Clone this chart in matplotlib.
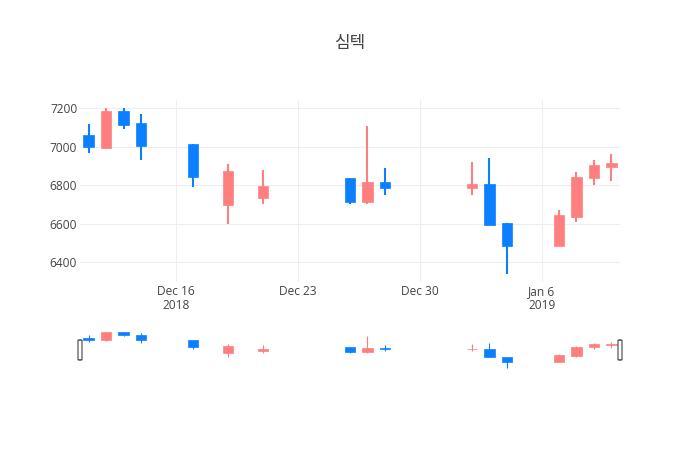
import numpy as np
import matplotlib
matplotlib.use("Agg")
from matplotlib import pyplot as plt
import matplotlib.dates as mdates
from matplotlib.patches import FancyBboxPatch
from matplotlib.ticker import FuncFormatter, FixedLocator
import datetime as dt

title = "심텍"
dates = ["2018-12-11", "2018-12-12", "2018-12-13", "2018-12-14", "2018-12-17",
         "2018-12-19", "2018-12-21", "2018-12-26", "2018-12-27", "2018-12-28",
         "2019-01-02", "2019-01-03", "2019-01-04", "2019-01-07", "2019-01-08",
         "2019-01-09", "2019-01-10"]
opens  = [7060, 6995, 7185, 7125, 7015, 6695, 6735, 6835, 6715, 6815,
          6785, 6805, 6605, 6485, 6635, 6835, 6895]
highs  = [7120, 7200, 7200, 7170, 7015, 6910, 6880, 6835, 7110, 6890,
          6920, 6940, 6605, 6670, 6870, 6930, 6960]
lows   = [6970, 6990, 7090, 6930, 6790, 6600, 6700, 6700, 6700, 6750,
          6750, 6595, 6340, 6485, 6610, 6800, 6820]
closes = [7000, 7185, 7115, 7005, 6845, 6875, 6795, 6715, 6815, 6785,
          6805, 6595, 6485, 6645, 6845, 6905, 6915]
tick_dates = ["2018-12-16", "2018-12-23", "2018-12-30", "2019-01-06"]

UP = "#FF7F7F"
DOWN = "#0A7FFF"
TXT = "#444444"
GRID = "#eeeeee"

x = mdates.date2num([dt.datetime.strptime(d, "%Y-%m-%d") for d in dates])
o = np.array(opens); h = np.array(highs); l = np.array(lows); c = np.array(closes)
cols = [UP if cc >= oo else DOWN for oo, cc in zip(o, c)]

xmin, xmax = x.min() - 0.5, x.max() + 0.5
pad = (h.max() - l.min()) * 0.05
ymin, ymax = l.min() - pad, h.max() + pad

plt.rcParams['font.family'] = ['Open Sans', 'Noto Sans CJK KR', 'DejaVu Sans']

W, H = 700, 450
fig = plt.figure(figsize=(7, 4.5), dpi=100)

def candles(ax, lw):
    ax.vlines(x, l, h, colors=cols, linewidth=lw, zorder=2)
    ax.bar(x, np.abs(c - o), bottom=np.minimum(o, c), width=0.6, color=cols,
           edgecolor=cols, linewidth=0.5, zorder=3)
    ax.set_xlim(xmin, xmax)
    ax.set_ylim(ymin, ymax)
    for s in ax.spines.values():
        s.set_visible(False)

# main chart
ax = fig.add_axes([80 / W, 1 - 282 / H, 540 / W, 182 / H])
candles(ax, 1.5)
ax.set_yticks([6400, 6600, 6800, 7000, 7200])
ax.xaxis.set_major_locator(FixedLocator(mdates.date2num(
    [dt.datetime.strptime(d, "%Y-%m-%d") for d in tick_dates])))

def fmt(v, pos):
    d = mdates.num2date(v)
    s = d.strftime("%b ") + str(d.day)
    if pos == 0 or (d.month == 1 and d.day <= 7):
        s += "\n" + str(d.year)
    return s

ax.xaxis.set_major_formatter(FuncFormatter(fmt))
ax.grid(True, color=GRID, linewidth=0.8, zorder=0)
ax.set_axisbelow(True)
ax.tick_params(axis='both', length=0, labelsize=8.6, colors=TXT)
ax.tick_params(axis='x', pad=2)
ax.tick_params(axis='y', pad=2)
for t in ax.get_xticklabels():
    t.set_linespacing(1.15)

# range slider
sl = fig.add_axes([80 / W, 1 - 370 / H, 540 / W, 40 / H])
candles(sl, 0.8)
sl.set_xticks([]); sl.set_yticks([])
for xa in (0.0, 1.0):
    sl.add_patch(FancyBboxPatch((xa - 2 / 540, 0.25), 4 / 540, 0.5,
                                boxstyle="round,pad=0,rounding_size=0.004",
                                transform=sl.transAxes, facecolor="white",
                                edgecolor="#444444", linewidth=0.8,
                                clip_on=False, zorder=5))

fig.text(0.5, 1 - 44 / H, title, ha='center', va='center', fontsize=12.2,
         color=TXT)

fig.savefig("out.png", dpi=100, facecolor="white")
